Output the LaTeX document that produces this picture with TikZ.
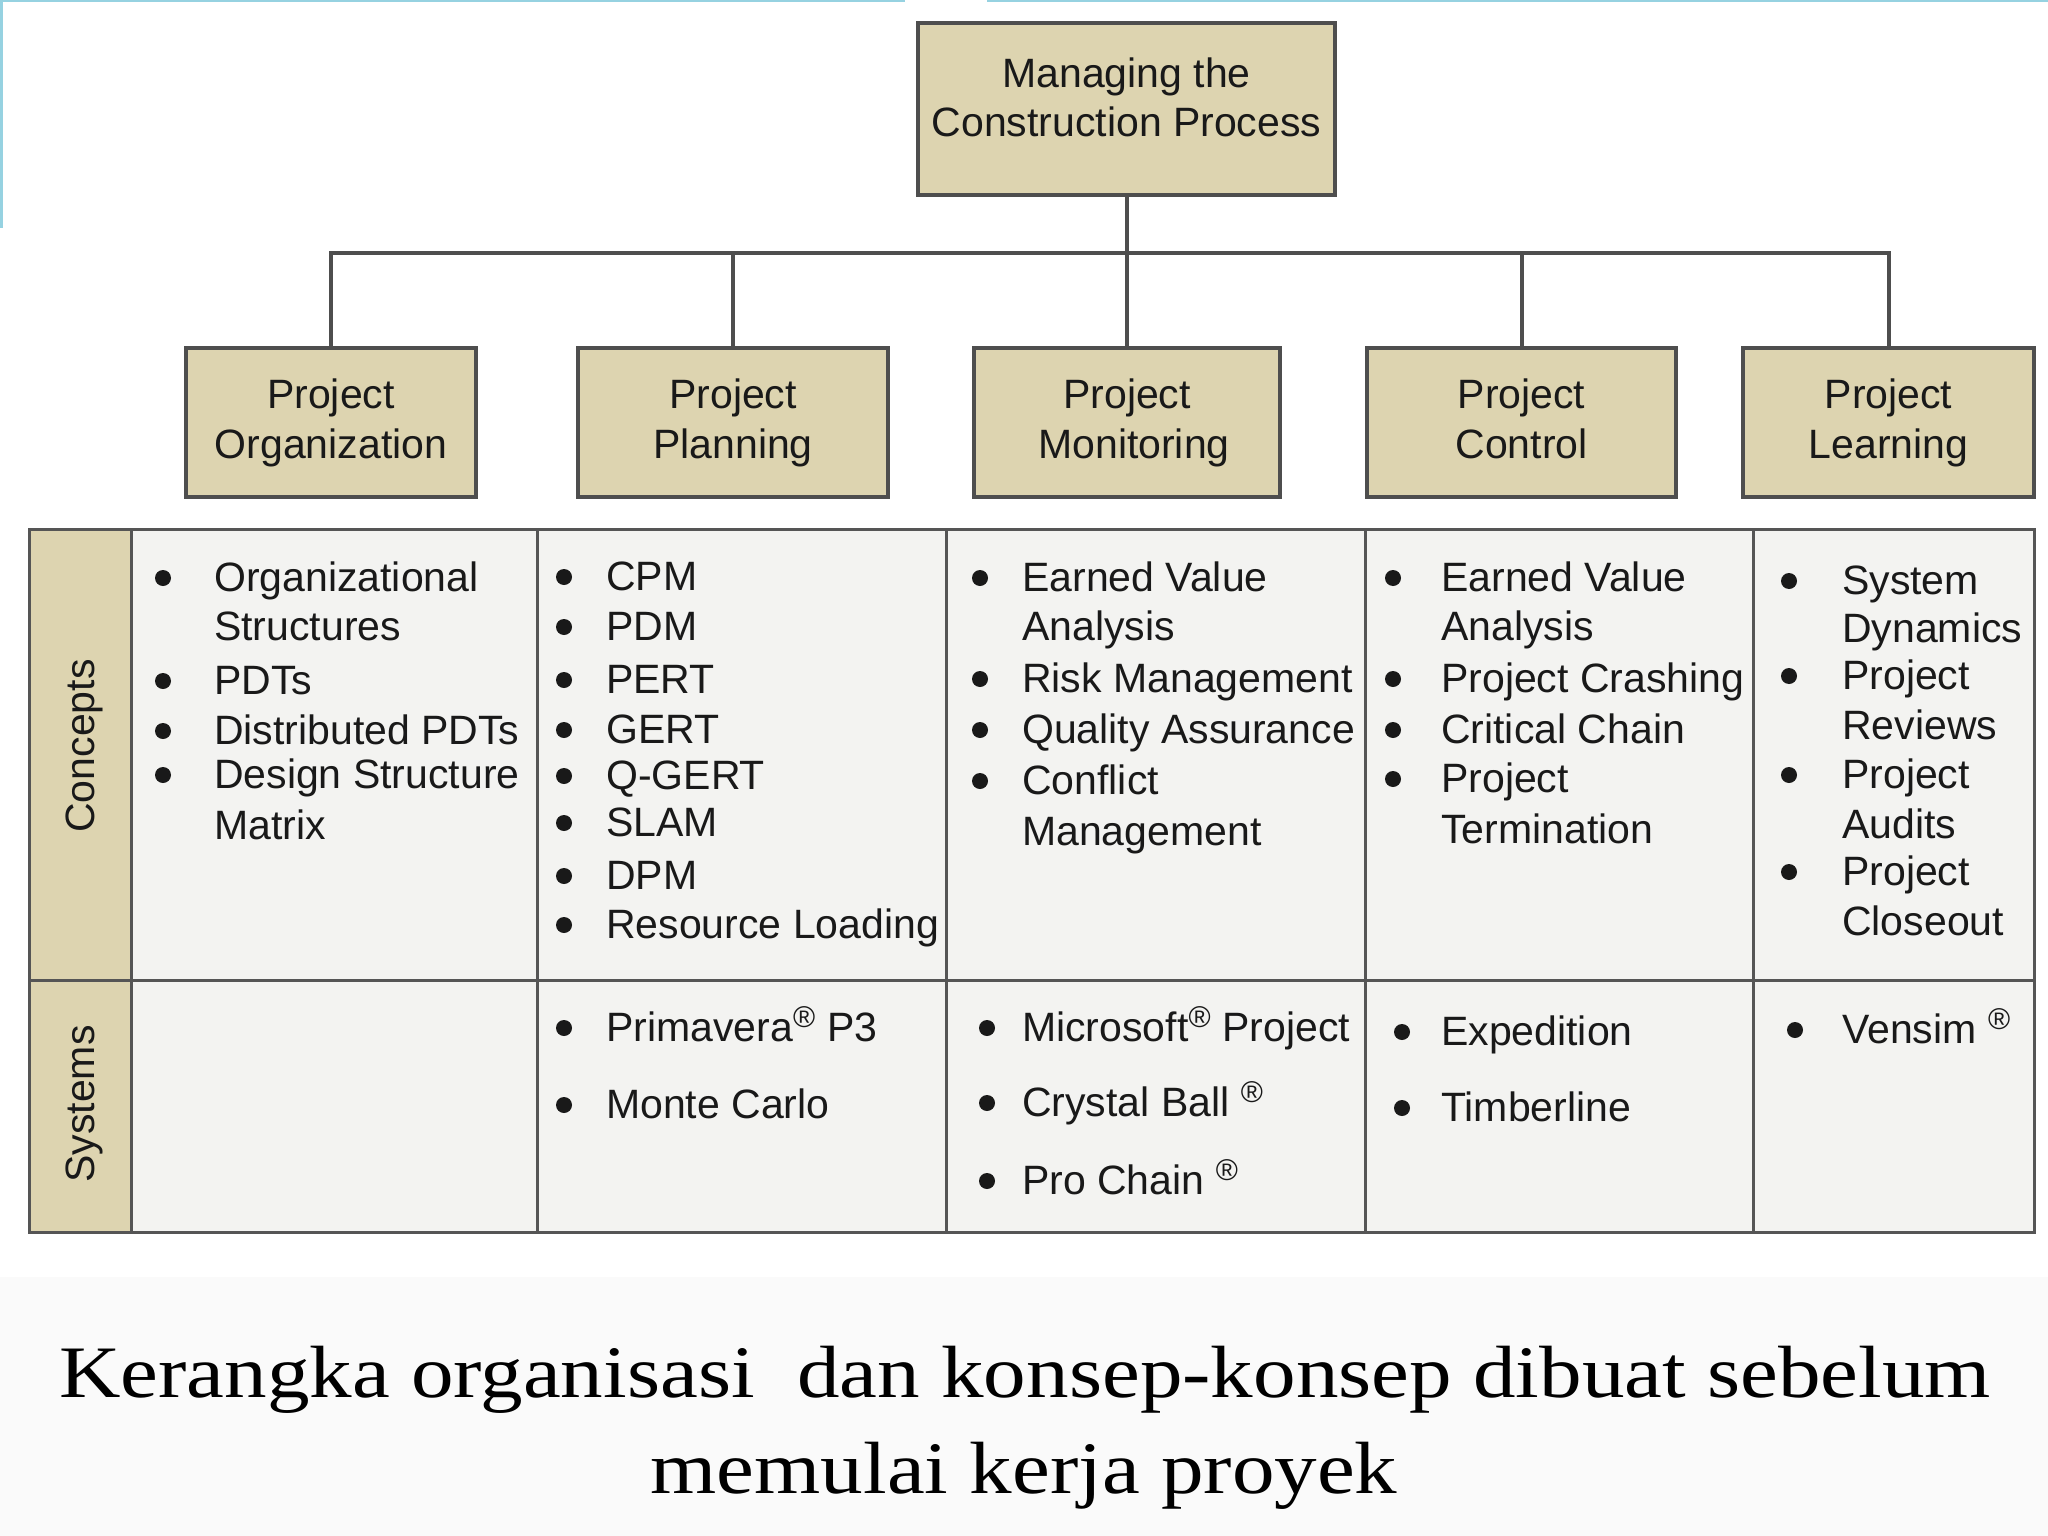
\documentclass[tikz,border=0pt]{standalone}
\usepackage{fontspec}
\setmainfont{Liberation Sans}
\newfontfamily\capfont[FakeStretch=1.15]{Liberation Serif}
\definecolor{tanfill}{RGB}{221,212,176}
\definecolor{tablebg}{RGB}{243,243,241}
\definecolor{boxline}{RGB}{78,78,78}
\definecolor{gridline}{RGB}{85,85,85}
\definecolor{ink}{RGB}{25,25,25}
\definecolor{capbg}{RGB}{250,250,250}
\definecolor{cyanline}{RGB}{150,210,225}
\newcommand\dfont{\fontsize{41}{50}\selectfont}
\newcommand\regmark{\raisebox{4pt}{\textsuperscript{\fontsize{30}{30}\selectfont ®}}}
\tikzset{
  boxnode/.style={draw=boxline, line width=4pt, fill=tanfill, inner sep=0pt},
  txt/.style={anchor=base west, inner sep=0pt, font=\dfont, text=ink},
  ctr/.style={anchor=base, inner sep=0pt, font=\dfont, text=ink},
  dotnode/.style={circle, fill=ink, inner sep=0pt, minimum size=16pt},
  conn/.style={draw=boxline, line width=4pt},
  gridl/.style={draw=gridline, line width=3pt},
  vlabel/.style={rotate=90, inner sep=0pt, font=\dfont, text=ink},
  capstyle/.style={anchor=base, inner sep=0pt, font=\capfont\fontsize{74}{80}\selectfont, text=black}
}
\begin{document}
\begin{tikzpicture}[x=1pt,y=-1pt]
\useasboundingbox (0,0) rectangle (2048,1536);
\fill[white] (0,0) rectangle (2048,1536);
\fill[capbg] (0,1277) rectangle (2048,1536);
% thin cyan frame remnants
\draw[cyanline, line width=3pt] (0,1) -- (905,1);
\draw[cyanline, line width=3pt] (987,1) -- (2048,1);
\draw[cyanline, line width=3pt] (1,0) -- (1,228);

% top box
\node[boxnode, minimum width=417pt, minimum height=172pt] (top) at (1126.5,109) {};
\node[ctr] (topt1) at (1126.5,88) {Managing the};
\node[ctr] (topt2) at (1126.5,137) {Construction Process};

% child boxes
\node[boxnode, minimum width=290pt, minimum height=149pt] (b1) at (331,422.5) {};
\node[boxnode, minimum width=310pt, minimum height=149pt] (b2) at (733,422.5) {};
\node[boxnode, minimum width=306pt, minimum height=149pt] (b3) at (1127,422.5) {};
\node[boxnode, minimum width=309pt, minimum height=149pt] (b4) at (1521.5,422.5) {};
\node[boxnode, minimum width=291pt, minimum height=149pt] (b5) at (1888.5,422.5) {};

\node[ctr] (b1t1) at (331,408) {Project};
\node[ctr] (b1t2) at (331,458) {Organization};
\node[ctr] (b2t1) at (733,408) {Project};
\node[ctr] (b2t2) at (733,458) {Planning};
\node[ctr] (b3t1) at (1127,408) {Project};
\node[ctr] (b3t2) at (1134,458) {Monitoring};
\node[ctr] (b4t1) at (1521.5,408) {Project};
\node[ctr] (b4t2) at (1521.5,458) {Control};
\node[ctr] (b5t1) at (1888.5,408) {Project};
\node[ctr] (b5t2) at (1888.5,458) {Learning};

% connectors
\coordinate (bus) at (0,253);
\draw[conn] (top.south) -- (top.south |- bus);
\draw[conn, line join=miter] (b1.north) |- (b5.north |- bus) -- (b5.north);
\foreach \b in {b2,b3,b4} \draw[conn] (\b.north) -- (\b.north |- bus);

% table
\fill[tablebg] (29,529) rectangle (2034,1232);
\fill[tanfill] (29,529) rectangle (131,1232);
\draw[gridl] (29,529) rectangle (2034,1232);
\draw[gridl] (29,980) -- (2034,980);
\foreach \xx in {131,537,946,1365,1753} \draw[gridl] (\xx,529) -- (\xx,1232);

\node[vlabel] (lconcepts) at (84,746) {Concepts};
\node[vlabel] (lsystems) at (84,1104) {Systems};

% column 1
\foreach \yy/\tt/\bb [count=\i] in {591/Organizational/1, 640/Structures/0, 694/PDTs/1, 744/Distributed PDTs/1, 788/Design Structure/1, 839/Matrix/0}{
  \node[txt] (c1t\i) at (214,\yy) {\tt};
  \ifnum\bb=1 \node[dotnode] (c1b\i) at (163,\yy-13) {};\fi
}
% column 2
\foreach \yy/\tt [count=\i] in {590/CPM, 640/PDM, 693/PERT, 743/GERT, 789/Q-GERT, 836/SLAM, 889/DPM, 938/Resource Loading}{
  \node[txt] (c2t\i) at (606,\yy) {\tt};
  \node[dotnode] (c2b\i) at (564,\yy-13) {};
}
\node[txt] (s2t1) at (606,1041) {Primavera\regmark\ P3};
\node[dotnode] (s2b1) at (564,1028) {};
\node[txt] (s2t2) at (606,1118) {Monte Carlo};
\node[dotnode] (s2b2) at (564,1105) {};
% column 3
\foreach \yy/\tt/\bb [count=\i] in {591/Earned Value/1, 640/Analysis/0, 692/Risk Management/1, 743/Quality Assurance/1, 794/Conflict/1, 845/Management/0}{
  \node[txt] (c3t\i) at (1022,\yy) {\tt};
  \ifnum\bb=1 \node[dotnode] (c3b\i) at (980,\yy-13) {};\fi
}
\node[txt] (s3t1) at (1022,1041) {Microsoft\regmark\ Project};
\node[dotnode] (s3b1) at (987,1028) {};
\node[txt] (s3t2) at (1022,1116) {Crystal Ball \regmark};
\node[dotnode] (s3b2) at (987,1103) {};
\node[txt] (s3t3) at (1022,1194) {Pro Chain \regmark};
\node[dotnode] (s3b3) at (987,1181) {};
% column 4
\foreach \yy/\tt/\bb [count=\i] in {591/Earned Value/1, 640/Analysis/0, 692/Project Crashing/1, 743/Critical Chain/1, 792/Project/1, 843/Termination/0}{
  \node[txt] (c4t\i) at (1441,\yy) {\tt};
  \ifnum\bb=1 \node[dotnode] (c4b\i) at (1393,\yy-13) {};\fi
}
\node[txt] (s4t1) at (1441,1045) {Expedition};
\node[dotnode] (s4b1) at (1402,1032) {};
\node[txt] (s4t2) at (1441,1121) {Timberline};
\node[dotnode] (s4b2) at (1402,1108) {};
% column 5
\foreach \yy/\tt/\bb [count=\i] in {594/System/1, 642/Dynamics/0, 689/Project/1, 739/Reviews/0, 788/Project/1, 838/Audits/0, 885/Project/1, 935/Closeout/0}{
  \node[txt] (c5t\i) at (1842,\yy) {\tt};
  \ifnum\bb=1 \node[dotnode] (c5b\i) at (1789,\yy-13) {};\fi
}
\node[txt] (s5t1) at (1842,1043) {Vensim \regmark};
\node[dotnode] (s5b1) at (1795,1030) {};

% caption
\node[capstyle] (cap1) at (1025,1397) {Kerangka organisasi\ \ dan konsep-konsep dibuat sebelum};
\node[capstyle] (cap2) at (1024,1493) {memulai kerja proyek};
\end{tikzpicture}
\end{document}
